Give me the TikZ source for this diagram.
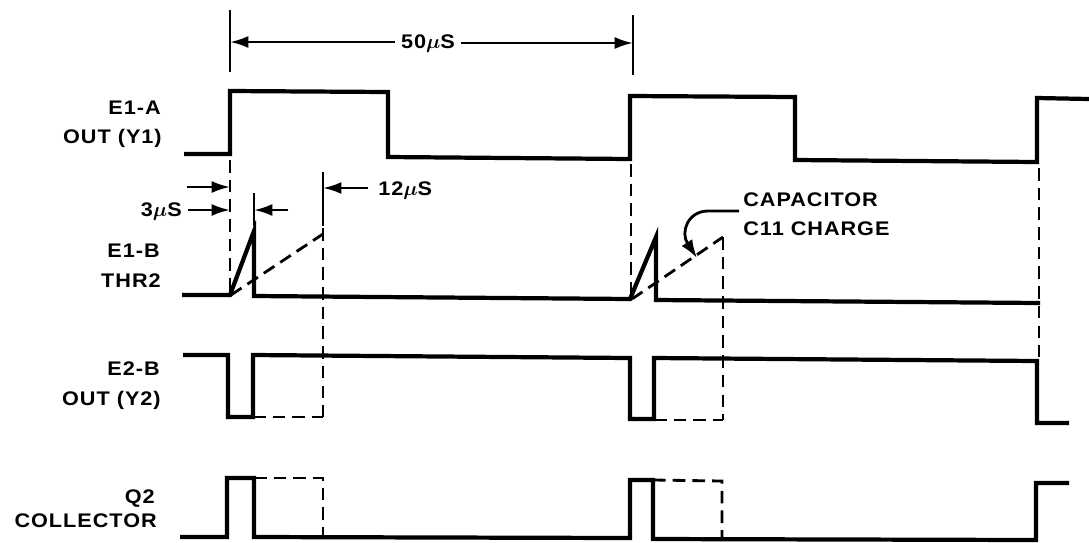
\documentclass[tikz,border=0pt]{standalone}
\usepackage{amsmath}
\usepackage{fontspec}
\setmainfont{Liberation Sans}[FakeStretch=1.1,LetterSpace=5]
\usetikzlibrary{arrows.meta}
\begin{document}
\begin{tikzpicture}[x=0.025cm,y=-0.025cm,
  wave/.style={line width=3pt,line join=miter,line cap=butt},
  dsh/.style={line width=2pt,dash pattern=on 9pt off 5pt},
  tick/.style={line width=1.9pt},
  dimarrow/.style={line width=1.8pt,-{Latex[length=13pt,width=8.5pt]}},
  lbl/.style={font=\fontsize{14}{16}\selectfont\bfseries,inner sep=0pt},
]
\useasboundingbox (0,0) rectangle (1089,542);

% labels
\node[lbl,anchor=base east] (l1a) at (161,114) {E1-A};
\node[lbl,anchor=base east] (l1b) at (162,143) {OUT (Y1)};
\node[lbl,anchor=base east] (l2a) at (160,257) {E1-B};
\node[lbl,anchor=base east] (l2b) at (161,287) {THR2};
\node[lbl,anchor=base east] (l3a) at (160,375) {E2-B};
\node[lbl,anchor=base east] (l3b) at (161,405) {OUT (Y2)};
\node[lbl,anchor=base east] (l4a) at (155,503) {Q2};
\node[lbl,anchor=base east] (l4b) at (157,527) {COLLECTOR};

% 50 us dimension
\draw[tick] (230,10) -- (230,72);
\draw[tick] (633,15) -- (633,75);
\node[lbl,anchor=base] (t50) at (428,48) {50$\boldsymbol{\mu}$S};
\coordinate (d50l) at (230,42);
\coordinate (d50r) at (633,43);
\draw[dimarrow] (t50.west |- d50l) ++(-6,0) -- (d50l);
\draw[dimarrow] (t50.east |- d50r) ++(6,0) -- (d50r);

% 3 us and 12 us dimensions
\node[lbl,anchor=base east] (t3) at (182,216) {3$\boldsymbol{\mu}$S};
\node[lbl,anchor=base west] (t12) at (378,195) {12$\boldsymbol{\mu}$S};
\coordinate (a1s) at (187,187);
\coordinate (a1e) at (230,187);
\coordinate (a2s) at (188,210);
\coordinate (a2e) at (230,210);
\coordinate (a3s) at (288,210);
\coordinate (a3e) at (254,210);
\coordinate (a4s) at (368,188);
\coordinate (a4e) at (323,188);
\draw[dimarrow] (a1s) -- (a1e);
\draw[dimarrow] (a2s) -- (a2e);
\draw[dimarrow] (a3s) -- (a3e);
\draw[dimarrow] (a4s) -- (a4e);
\draw[tick] (254,193) -- (254,226);
\draw[tick] (323,172) -- (323,226);

% dashed verticals
\draw[dsh] (230,160) -- (230,295);
\draw[dsh] (323,228) -- (323,417);
\draw[dsh] (631,164) -- (631,298);
\draw[dsh] (723,237) -- (723,420);
\draw[dsh] (1039,168) -- (1039,357);

% E1-A
\draw[wave] (184,154) -- (230,154) -- (230,91) -- (388,92) -- (388,157)
  -- (630,159) -- (630,96) -- (795,97) -- (795,160) -- (1037,162)
  -- (1037,98) -- (1089,99);

% E1-B
\draw[wave] (182,295) -- (230,295) -- (254,231) -- (254,296) -- (630,299)
  -- (656,237) -- (656,300) -- (1040,303);
\draw[dsh] (231,295) -- (323,234);
\draw[dsh] (632,299) -- (723,237);

% E2-B
\draw[wave] (183,355) -- (228,355) -- (228,417) -- (253,417) -- (253,355)
  -- (630,358) -- (630,419) -- (654,419) -- (654,358) -- (1037,361)
  -- (1037,423) -- (1069,423);
\draw[dsh] (253,417) -- (323,417);
\draw[dsh] (654,420) -- (723,420);

% Q2 collector
\draw[wave] (180,537) -- (227,537) -- (227,478) -- (254,478) -- (254,537)
  -- (630,538) -- (630,480) -- (653,480) -- (653,539) -- (1036,540)
  -- (1036,483) -- (1069,483);
\draw[dsh] (254,478) -- (323,478) -- (323,537);
\draw[dsh] (653,480) -- (722,481) -- (722,539);

% capacitor note
\node[lbl,anchor=base west] (cap1) at (743,206) {CAPACITOR};
\node[lbl,anchor=base west] (cap2) at (743,235) {C11 CHARGE};
\coordinate (cs) at (739,211);
\coordinate (ce) at (697,258);
\draw[line width=2pt,-{Latex[length=13pt,width=9pt]}] (cs) -- (708,211)
  .. controls (688,211) and (680,232) .. (ce);
\end{tikzpicture}
\end{document}
